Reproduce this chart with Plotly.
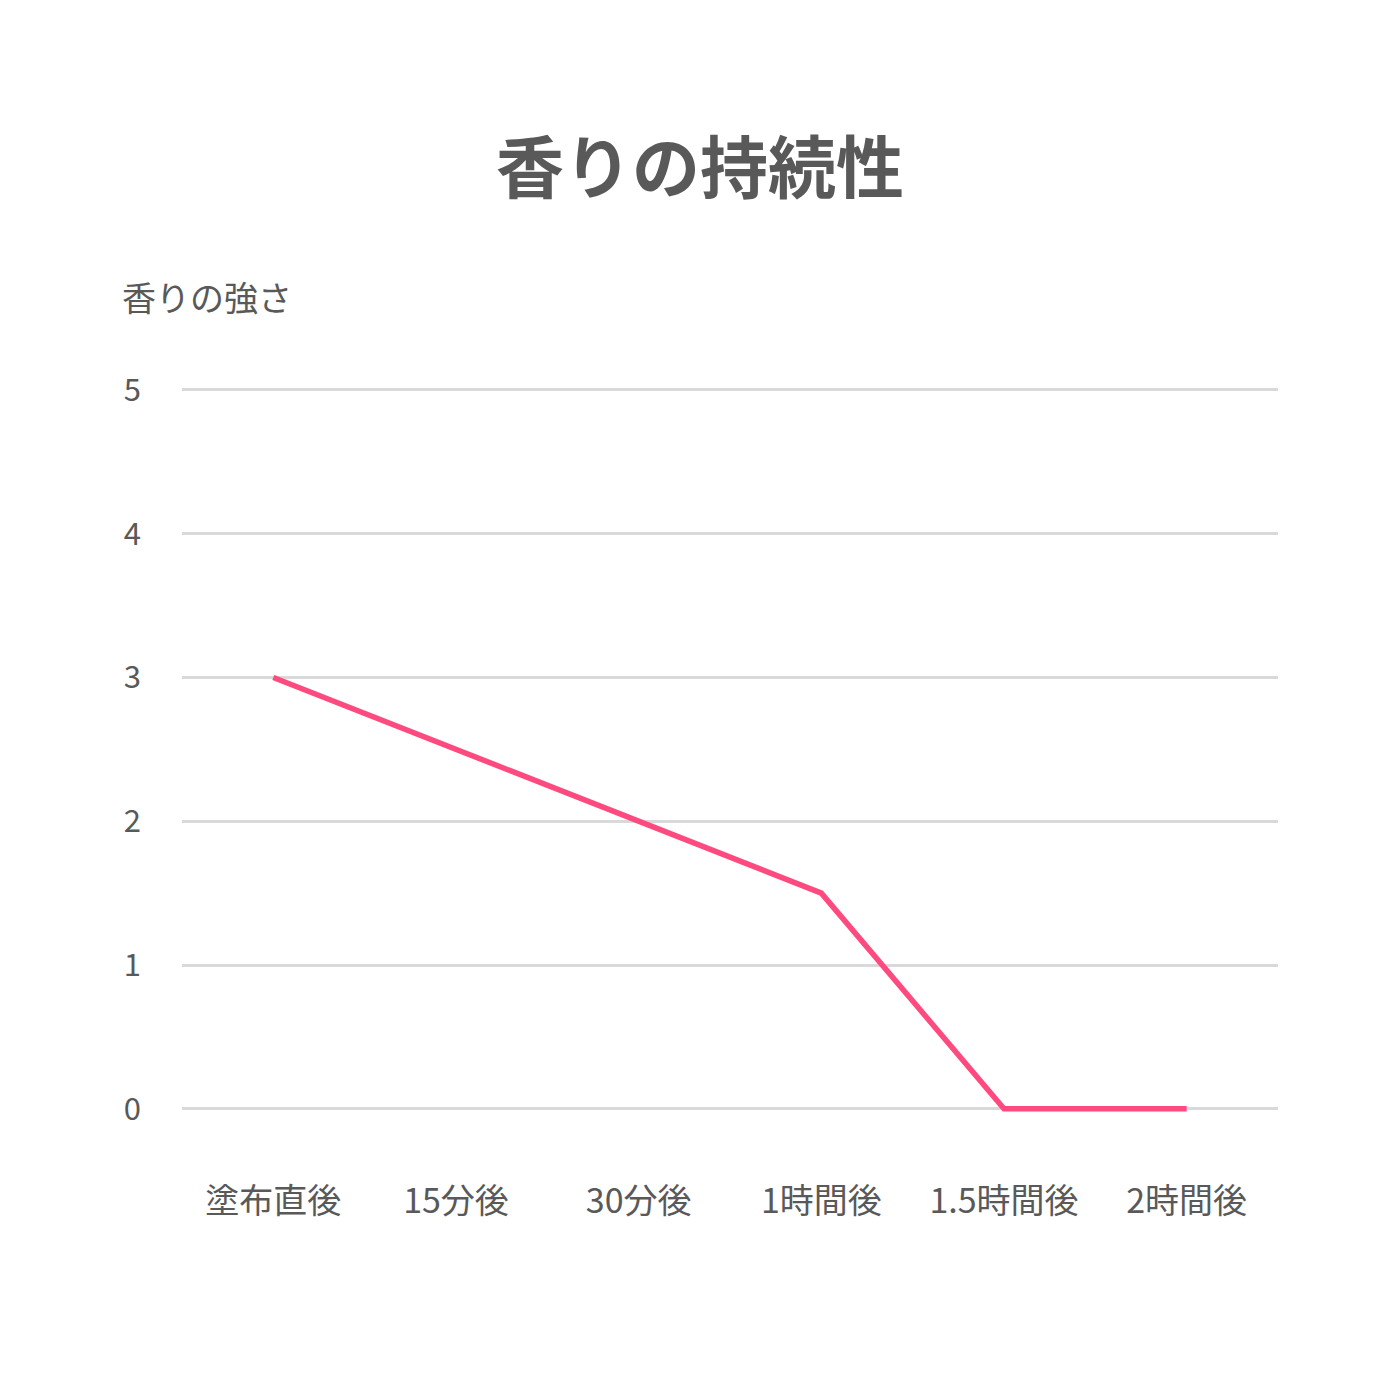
import plotly.graph_objects as go

categories = ["塗布直後", "15分後", "30分後", "1時間後", "1.5時間後", "2時間後"]
intensity = [3, 2.5, 2, 1.5, 0, 0]
y_ticks = [0, 1, 2, 3, 4, 5]

title_text = "香りの持続性"
y_title = "香りの強さ"

FONT = "Noto Sans CJK JP"
TXT = "#595959"

OFF = 8  # page body margin offset

ppu = (1109 - 390) / 5.0
y_lo, y_hi = -0.05, 5.02
top_px = 390 - (y_hi - 5) * ppu - OFF
bot_px = 1109 + (0 - y_lo) * ppu - OFF
left_px = 182 - OFF
right_px = 1278 - OFF

fig = go.Figure()
fig.add_trace(go.Scatter(
    x=list(range(len(categories))), y=intensity, mode="lines",
    line=dict(color="#FF4A80", width=5.5), hoverinfo="skip", showlegend=False,
))

fig.update_layout(
    width=1400, height=1400,
    paper_bgcolor="white", plot_bgcolor="white",
    margin=dict(l=left_px, r=1400 - right_px, t=top_px, b=1400 - bot_px),
    font=dict(family=FONT, color=TXT),
    xaxis=dict(
        range=[-0.5, len(categories) - 0.5],
        tickmode="array", tickvals=list(range(len(categories))), ticktext=categories,
        showgrid=False, zeroline=False, showline=False, ticks="",
        tickfont=dict(size=34, color=TXT, family=FONT),
        ticklabelstandoff=62,
    ),
    yaxis=dict(
        range=[y_lo, y_hi],
        tickmode="array", tickvals=y_ticks, ticktext=[str(v) for v in y_ticks],
        showgrid=True, gridcolor="#D9D9D9", gridwidth=3,
        zeroline=False, showline=False, ticks="",
        tickfont=dict(size=31, color=TXT, family=FONT),
        ticklabelstandoff=40,
    ),
)

pw = right_px - left_px
ph = bot_px - top_px


def to_paper(px, py):
    return (px - OFF - left_px) / pw, (bot_px - (py - OFF)) / ph


tx, ty = to_paper(700, 164)
ax_, ay_ = to_paper(120, 297)
fig.update_layout(annotations=[
    dict(text=f"<b>{title_text}</b>", x=tx, y=ty, xref="paper", yref="paper",
         xanchor="center", yanchor="middle", showarrow=False,
         font=dict(size=68, color=TXT, family=FONT)),
    dict(text=y_title, x=ax_, y=ay_, xref="paper", yref="paper",
         xanchor="left", yanchor="middle", showarrow=False,
         font=dict(size=34, color=TXT, family=FONT)),
])

fig.write_html("out.html")
